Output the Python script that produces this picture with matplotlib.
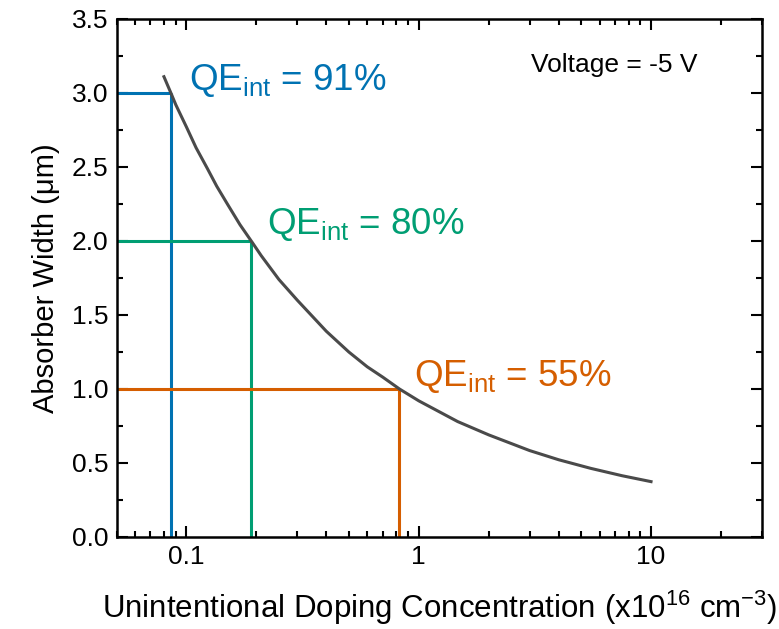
import numpy as np
import matplotlib.pyplot as plt
from matplotlib.ticker import MultipleLocator, LogLocator, FixedLocator, FixedFormatter, NullFormatter

plt.rcParams['font.family'] = ['Liberation Sans', 'DejaVu Sans']
plt.rcParams['mathtext.fontset'] = 'custom'
plt.rcParams['mathtext.rm'] = 'Liberation Sans'
plt.rcParams['mathtext.it'] = 'Liberation Sans:italic'

# curve: doping (x1e16 cm^-3) vs absorber width (um)
doping = [0.080, 0.0857, 0.090, 0.100, 0.110, 0.123, 0.135, 0.150, 0.170, 0.192,
          0.210, 0.250, 0.300, 0.400, 0.500, 0.600, 0.700, 0.826, 1.00, 1.47,
          2.00, 3.00, 4.00, 5.49, 7.50, 10.0]
width = [3.11, 3.00, 2.92, 2.77, 2.63, 2.49, 2.37, 2.25, 2.11, 1.99,
         1.90, 1.74, 1.60, 1.39, 1.25, 1.15, 1.08, 1.00, 0.92, 0.78,
         0.69, 0.584, 0.522, 0.464, 0.414, 0.374]

# marked operating points
mark_doping = [0.0857, 0.19, 0.826]
mark_width = [3.0, 2.0, 1.0]
mark_qe = [91, 80, 55]
mark_colors = ['#0072B2', '#009E73', '#D55E00']
label_pos = [(0.103, 3.02), (0.222, 2.05), (0.955, 1.02)]

fig = plt.figure(figsize=(7.79, 6.29), dpi=100)
ax = fig.add_axes([0.1496, 0.1463, 0.8284, 0.8235])

xmin = 0.05
for xd, yw, qe, c, (tx, ty) in zip(mark_doping, mark_width, mark_qe, mark_colors, label_pos):
    ax.plot([xmin, xd], [yw, yw], color=c, lw=2.2, solid_capstyle='butt', zorder=2)
    ax.plot([xd, xd], [0, yw], color=c, lw=2.2, solid_capstyle='butt', zorder=2)
    ax.text(tx, ty, 'QE$_\\mathregular{int}$ = %d%%' % qe, color=c, fontsize=26.5,
            ha='left', va='baseline')

ax.plot(doping, width, color='#4a4a4a', lw=2.2, zorder=3)

ax.text(3.05, 3.145, 'Voltage = -5 V', fontsize=19, ha='left', va='baseline')

ax.set_xscale('log')
ax.set_xlim(xmin, 30)
ax.set_ylim(0, 3.5)
ax.xaxis.set_major_locator(FixedLocator([0.1, 1, 10]))
ax.xaxis.set_major_formatter(FixedFormatter(['0.1', '1', '10']))
ax.xaxis.set_minor_locator(LogLocator(base=10, subs=np.arange(2, 10)))
ax.xaxis.set_minor_formatter(NullFormatter())
ax.yaxis.set_major_locator(MultipleLocator(0.5))
ax.yaxis.set_minor_locator(MultipleLocator(0.25))
ax.yaxis.set_major_formatter(plt.FuncFormatter(lambda v, p: '%.1f' % v))

ax.tick_params(which='both', direction='in', top=True, right=True, width=1.5, labelsize=19)
ax.tick_params(which='major', length=8, pad=6)
ax.tick_params(which='minor', length=4)
for s in ax.spines.values():
    s.set_linewidth(1.8)

ax.set_xlabel('Unintentional Doping Concentration (x10$^\\mathregular{16}$ cm$^\\mathregular{-3}$)',
              fontsize=22.5, labelpad=14)
ax.set_ylabel('Absorber Width (\u03bcm)', fontsize=21, labelpad=8)

fig.savefig('out.png', dpi=100)
